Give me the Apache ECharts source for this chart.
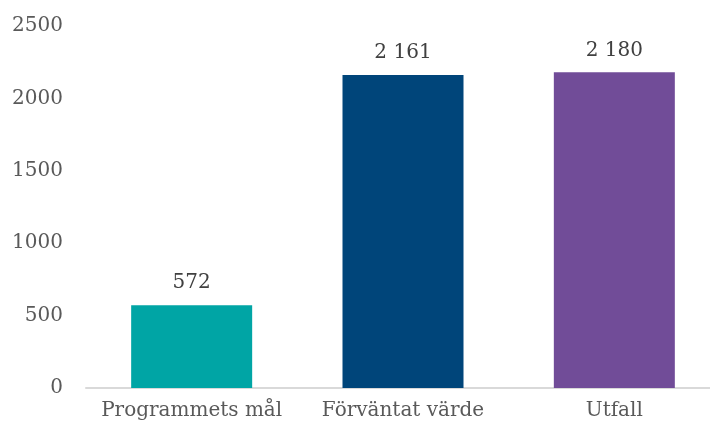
<!DOCTYPE html>
<html>
<head>
<meta charset="utf-8">
<script src="https://cdn.jsdelivr.net/npm/echarts@6/dist/echarts.min.js"></script>
<style>
  html, body { margin: 0; padding: 0; background: #fff; overflow: hidden; }
  /* lite bredare än fönstret, axeln går ut över högerkanten */
  #chart { width: 720px; height: 430px; }
</style>
</head>
<body>
<div id="chart"></div>
<script>
const categories = ['Programmets mål', 'Förväntat värde', 'Utfall']
const values = [572, 2161, 2180]
const barColors = ['#00A5A5', '#00457A', '#714C98']
const yTicks = [0, 500, 1000, 1500, 2000, 2500]

const font = 'DejaVu Serif'

// mellanslag som tusentalsavgränsare
function fmt (v) {
  return String(v).replace(/\B(?=(\d{3})+(?!\d))/g, ' ')
}

let myChart = echarts.init(document.getElementById('chart'))
let option = {
  animation: false,
  grid: {
    left: 86,
    top: 26,
    right: 0,
    bottom: 42,
    containLabel: false,
  },
  xAxis: {
    type: 'category',
    data: categories,
    axisLine: { lineStyle: { color: '#d9d9d9', width: 2 } },
    axisTick: { show: false },
    axisLabel: {
      interval: 0,
      color: '#595959',
      fontFamily: font,
      fontSize: 20,
      margin: 13,
    },
  },
  yAxis: {
    type: 'value',
    min: yTicks[0],
    max: yTicks[yTicks.length - 1],
    interval: 500,
    splitLine: { show: false },
    axisLine: { show: false },
    axisTick: { show: false },
    axisLabel: {
      color: '#595959',
      fontFamily: font,
      fontSize: 20,
      margin: 23,
      formatter: (v) => String(v),
    },
  },
  series: [
    {
      type: 'bar',
      barWidth: 121,
      data: values.map((v, i) => ({ value: v, itemStyle: { color: barColors[i] } })),
      label: {
        show: true,
        position: 'top',
        distance: 12,
        color: '#404040',
        fontFamily: font,
        fontSize: 20,
        formatter: (p) => fmt(p.value),
      },
    },
  ],
}
myChart.setOption(option)
</script>
</body>
</html>
